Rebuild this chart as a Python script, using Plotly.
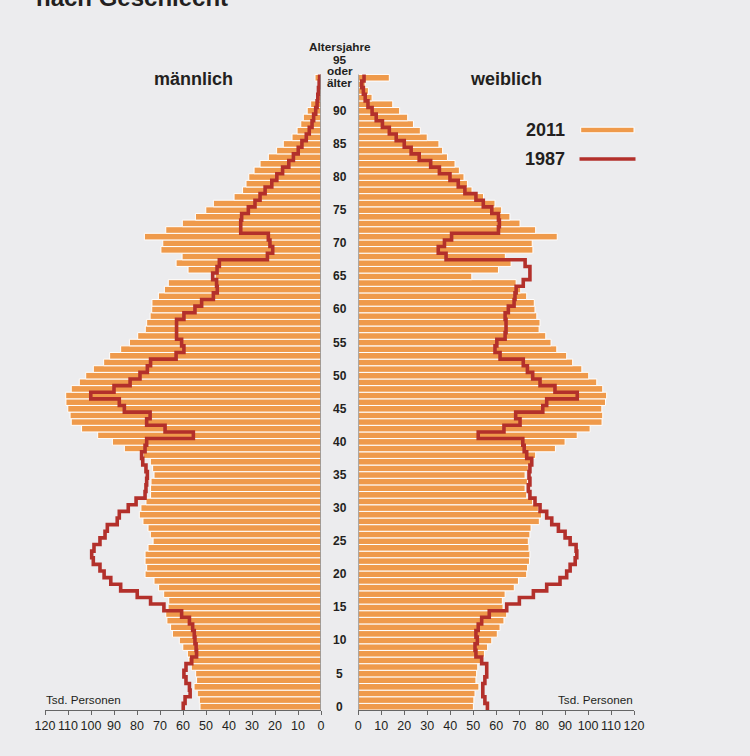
import plotly.graph_objects as go

# ---------------- data ----------------
ages = list(range(96))  # 95 = "95 oder älter"

male_2011 = [
    52.6, 52.9, 53.8, 55.2, 54.1, 54.5, 56.4, 57.5, 58.1, 60.1,
    61.6, 64.6, 65.4, 67.0, 67.5, 66.5, 66.2, 68.4, 70.6, 72.6,
    76.5, 75.8, 76.5, 76.5, 75.2, 73.0, 74.2, 75.2, 77.4, 79.0,
    78.3, 76.1, 74.1, 74.1, 73.9, 72.6, 73.2, 74.2, 77.3, 85.5,
    90.7, 97.1, 104.1, 108.6, 109.1, 110.1, 110.9, 111.0, 108.6, 105.1,
    102.3, 99.0, 94.5, 91.9, 87.1, 83.3, 79.7, 76.4, 75.8, 74.3,
    73.6, 73.5, 70.7, 68.1, 66.4, 46.0, 57.8, 63.0, 60.4, 69.6,
    68.8, 76.8, 67.5, 60.3, 54.6, 50.1, 46.8, 37.8, 34.1, 32.6,
    31.4, 29.1, 26.5, 22.9, 19.3, 16.4, 12.6, 10.4, 8.8, 7.7,
    6.0, 4.5, 2.0, 1.4, 1.0, 2.6,
]

female_2011 = [
    50.1, 50.3, 50.8, 52.5, 51.2, 51.5, 52.0, 53.7, 54.9, 56.3,
    58.1, 60.5, 61.7, 63.4, 64.6, 63.0, 62.7, 63.9, 67.9, 69.7,
    73.3, 73.7, 74.5, 74.7, 74.3, 74.0, 74.7, 75.2, 78.8, 79.8,
    78.4, 75.9, 73.3, 72.6, 73.6, 72.6, 74.0, 75.5, 77.2, 85.8,
    90.0, 95.3, 100.9, 106.1, 106.4, 106.0, 107.6, 108.1, 106.4, 103.8,
    100.3, 97.3, 93.3, 90.7, 86.4, 83.9, 81.6, 78.7, 79.1, 77.7,
    76.9, 76.6, 73.3, 70.7, 68.7, 49.4, 61.0, 66.5, 64.0, 76.0,
    75.7, 86.6, 77.2, 70.4, 66.0, 62.4, 59.5, 54.5, 49.5, 47.5,
    46.0, 44.0, 42.1, 38.8, 36.7, 35.1, 30.0, 27.0, 24.0, 21.5,
    18.0, 15.0, 6.0, 4.4, 3.0, 13.5,
]

male_1987 = [
    59.9, 59.1, 56.9, 57.2, 58.7, 59.6, 58.7, 56.2, 54.1, 54.3,
    54.8, 55.1, 55.8, 57.2, 60.6, 68.3, 74.1, 79.9, 87.1, 91.4,
    94.3, 96.1, 99.0, 99.7, 98.7, 96.1, 93.9, 92.9, 88.6, 87.7,
    83.8, 80.4, 76.5, 76.1, 75.8, 75.5, 76.1, 77.5, 78.0, 76.5,
    75.8, 55.5, 67.8, 75.8, 74.3, 85.5, 87.7, 100.1, 90.0, 83.0,
    78.7, 75.5, 74.1, 63.0, 59.6, 60.6, 62.8, 62.8, 62.8, 59.6,
    54.8, 51.9, 46.8, 45.1, 45.4, 47.1, 45.2, 44.2, 23.3, 21.0,
    22.2, 22.9, 34.9, 34.9, 34.5, 31.6, 28.7, 26.5, 24.3, 21.4,
    19.2, 16.7, 14.0, 12.0, 9.9, 8.3, 6.4, 5.1, 3.9, 3.2,
    2.3, 1.7, 1.4, 1.1, 0.8, 0.6,
]

female_1987 = [
    56.2, 55.1, 54.2, 54.2, 55.1, 55.9, 55.9, 53.7, 51.2, 50.8,
    51.8, 51.2, 52.2, 53.7, 57.0, 64.6, 70.1, 76.2, 82.0, 87.8,
    90.7, 92.2, 94.4, 95.1, 94.8, 92.2, 90.0, 87.1, 84.2, 82.0,
    79.1, 76.9, 74.7, 74.0, 74.7, 74.3, 74.7, 75.5, 73.3, 72.2,
    71.6, 52.2, 63.4, 70.4, 68.5, 80.3, 82.0, 95.3, 85.6, 79.1,
    75.9, 73.6, 71.8, 61.7, 59.5, 60.3, 63.9, 64.3, 64.3, 63.9,
    65.3, 67.8, 68.2, 68.7, 71.8, 74.7, 74.7, 72.6, 38.2, 34.8,
    37.5, 40.6, 61.0, 61.4, 61.0, 58.1, 54.4, 51.2, 46.4, 43.5,
    39.9, 35.3, 31.5, 26.5, 23.0, 20.0, 16.5, 13.5, 10.5, 7.8,
    6.0, 4.2, 3.0, 2.2, 1.5, 2.5,
]

x_ticks = [0, 10, 20, 30, 40, 50, 60, 70, 80, 90, 100, 110, 120]
age_ticks = [0, 5, 10, 15, 20, 25, 30, 35, 40, 45, 50, 55, 60, 65, 70, 75, 80, 85, 90]
top_label = ["95", "oder", "älter"]
series_names = ["2011", "1987"]

# ---------------- style ----------------
W, H = 750, 756
BG = "#ECECEE"
ORANGE = "#EF9A4B"
RED = "#B3302B"
GRAY = "#8C8C8C"
TXT = "#231F20"
FONT = "Liberation Sans, Arial, Helvetica, sans-serif"


def px_x(p):
    return p / W


def px_y(p):
    return (H - p) / H


def step_pts(vals):
    ys = [ages[0] - 0.5] + ages + [ages[-1] + 0.5]
    xs = [vals[0]] + vals + [vals[-1]]
    return xs, ys


fig = go.Figure()

bar_style = dict(color=ORANGE, line=dict(color="white", width=1))
fig.add_trace(go.Bar(x=male_2011, y=ages, orientation="h", width=1.0,
                     marker=bar_style, xaxis="x", yaxis="y",
                     name=series_names[0], showlegend=False))
fig.add_trace(go.Bar(x=female_2011, y=ages, orientation="h", width=1.0,
                     marker=bar_style, xaxis="x2", yaxis="y",
                     name=series_names[0], showlegend=False))

mx, my = step_pts(male_1987)
fx, fy = step_pts(female_1987)
line_style = dict(color=RED, width=3.6, shape="vhv")
fig.add_trace(go.Scatter(x=mx, y=my, mode="lines", line=line_style,
                         xaxis="x", yaxis="y", name=series_names[1],
                         showlegend=False, cliponaxis=False))
fig.add_trace(go.Scatter(x=fx, y=fy, mode="lines", line=line_style,
                         xaxis="x2", yaxis="y", name=series_names[1],
                         showlegend=False, cliponaxis=False))

xaxis_common = dict(
    tickvals=x_ticks, ticktext=[str(t) for t in x_ticks],
    ticks="outside", ticklen=4, tickwidth=1, tickcolor="#666666",
    showline=True, linecolor="#666666", linewidth=1,
    showgrid=False, zeroline=False,
    tickfont=dict(family=FONT, size=12.5, color=TXT),
    anchor="y", fixedrange=True, automargin=False,
)

y_bottom_px = 710.0
y_top_px = 64.5

fig.update_layout(
    width=W, height=H,
    margin=dict(l=0, r=0, t=0, b=0, pad=0),
    paper_bgcolor=BG, plot_bgcolor="rgba(0,0,0,0)",
    barmode="overlay",
    showlegend=False,
    xaxis=dict(domain=[px_x(45), px_x(321)], range=[120, 0], **xaxis_common),
    xaxis2=dict(domain=[px_x(358.3), px_x(634)], range=[0, 120], **xaxis_common),
    yaxis=dict(domain=[px_y(y_bottom_px), px_y(y_top_px)], range=[-0.5, 97],
               visible=False, showgrid=False, zeroline=False, fixedrange=True),
)

shapes = []
# central vertical axis lines
for xr in ("x", "x2"):
    shapes.append(dict(type="line", xref=xr, yref="y", x0=0, x1=0,
                       y0=-0.5, y1=95.5, line=dict(color=GRAY, width=1.6),
                       layer="above"))
# legend swatches
shapes.append(dict(type="rect", xref="paper", yref="paper",
                   x0=px_x(580.7), x1=px_x(634), y0=px_y(132.8), y1=px_y(127.2),
                   fillcolor=ORANGE, line=dict(color="white", width=1)))
shapes.append(dict(type="line", xref="paper", yref="paper",
                   x0=px_x(579.5), x1=px_x(635.5), y0=px_y(159), y1=px_y(159),
                   line=dict(color=RED, width=3.6)))
fig.update_layout(shapes=shapes)

ann = []
for a in age_ticks:
    ann.append(dict(text=f"<b>{a}</b>", x=px_x(339.6), xref="paper", y=a, yref="y",
                    showarrow=False, xanchor="center", yanchor="middle",
                    font=dict(family=FONT, size=12, color=TXT)))
for txt, py in zip(top_label, [59.5, 71.5, 83.3]):
    ann.append(dict(text=f"<b>{txt}</b>", x=px_x(339.6), xref="paper", y=px_y(py),
                    yref="paper", showarrow=False, xanchor="center", yanchor="middle",
                    borderpad=0, font=dict(family=FONT, size=11.8, color=TXT)))
ann.append(dict(text="<b>Altersjahre</b>", x=px_x(339.6), xref="paper", y=px_y(46.5),
                yref="paper", showarrow=False, xanchor="center", yanchor="middle",
                borderpad=0, font=dict(family=FONT, size=11.8, color=TXT)))
ann.append(dict(text="<b>männlich</b>", x=px_x(193.5), xref="paper", y=px_y(78.5),
                yref="paper", showarrow=False, xanchor="center", yanchor="middle",
                font=dict(family=FONT, size=18, color=TXT)))
ann.append(dict(text="<b>weiblich</b>", x=px_x(505.5), xref="paper", y=px_y(78.5),
                yref="paper", showarrow=False, xanchor="center", yanchor="middle",
                font=dict(family=FONT, size=18, color=TXT)))
for name, py in zip(series_names, [130, 159]):
    ann.append(dict(text=f"<b>{name}</b>", x=px_x(567), xref="paper", y=px_y(py),
                    yref="paper", showarrow=False, xanchor="right", yanchor="middle",
                    font=dict(family=FONT, size=18, color=TXT)))
ann.append(dict(text="Tsd. Personen", x=px_x(44), xref="paper", y=px_y(699),
                yref="paper", showarrow=False, xanchor="left", yanchor="middle",
                font=dict(family=FONT, size=11.7, color=TXT)))
ann.append(dict(text="Tsd. Personen", x=px_x(635), xref="paper", y=px_y(699),
                yref="paper", showarrow=False, xanchor="right", yanchor="middle",
                font=dict(family=FONT, size=11.7, color=TXT)))
ann.append(dict(text="<b>nach Geschlecht</b>", x=px_x(34), xref="paper", y=px_y(-3),
                yref="paper", showarrow=False, xanchor="left", yanchor="middle",
                font=dict(family=FONT, size=24, color=TXT)))
fig.update_layout(annotations=ann)

fig.write_html(
    "out.html",
    config={"displayModeBar": False},
    post_script="document.body.style.margin='0';document.body.style.overflow='hidden';",
)
